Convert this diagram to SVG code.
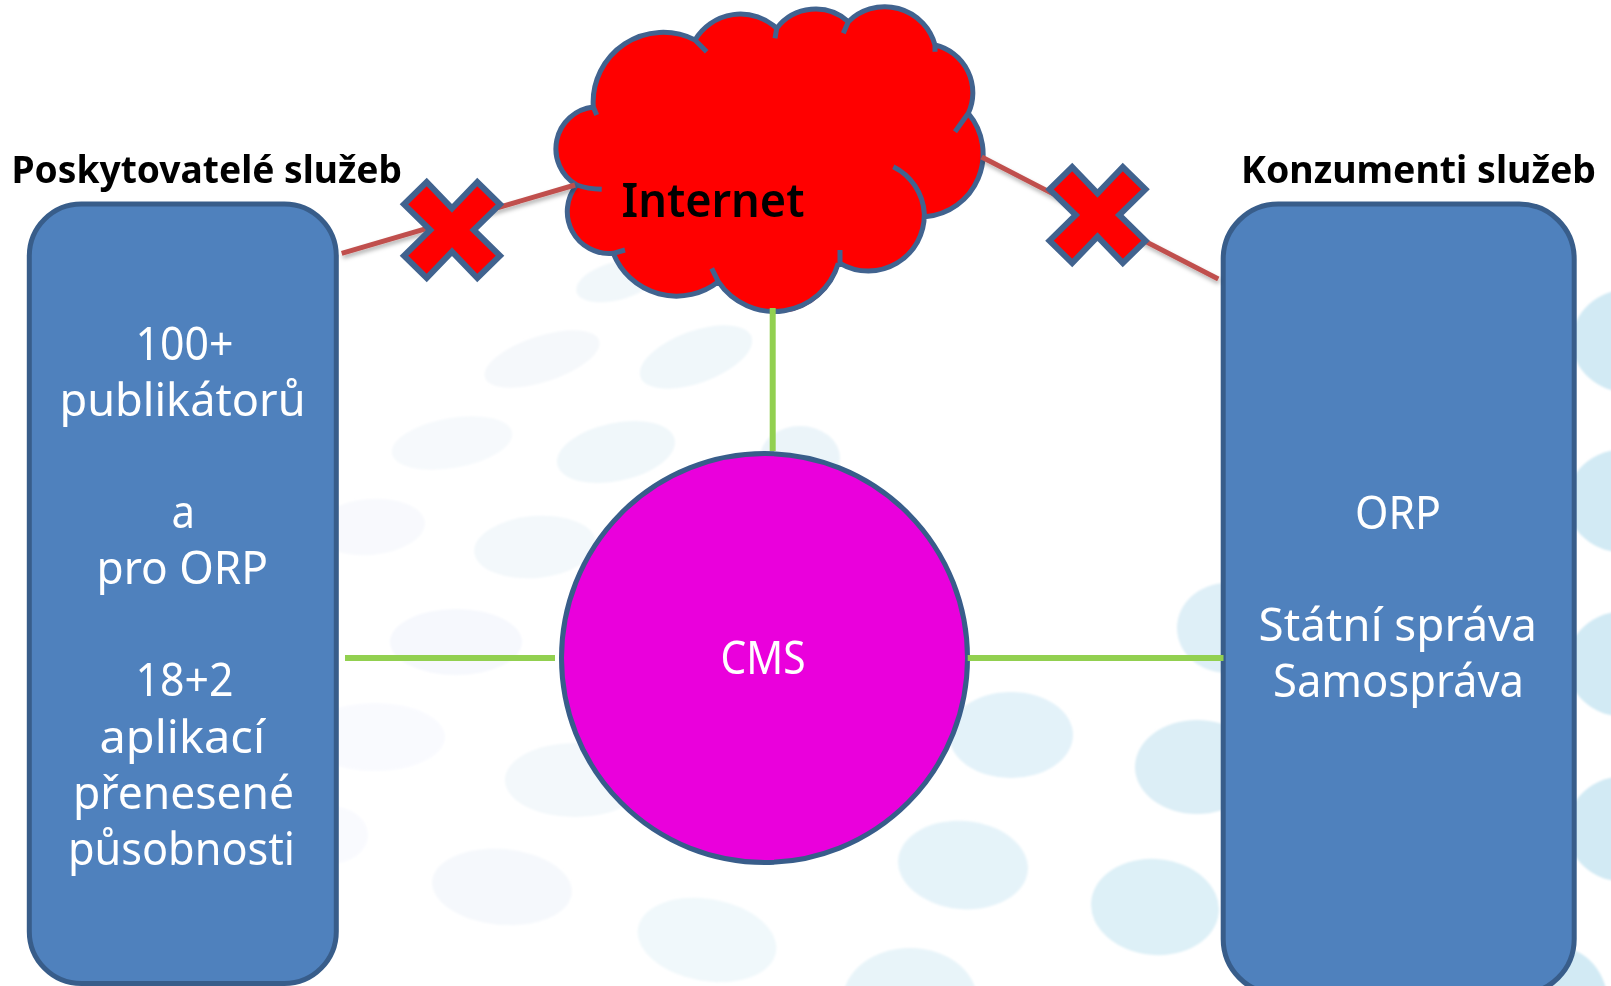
<svg xmlns="http://www.w3.org/2000/svg" width="1611" height="986" viewBox="0 0 1611 986">
<style>
.t{font-family:"Noto Sans","Open Sans","Liberation Sans",sans-serif;fill:#fff;font-size:46px}
.h{font-family:"Noto Sans","Open Sans","Liberation Sans",sans-serif;fill:#000;font-weight:700;font-size:37px}
.box{fill:#4f81bd;stroke:#385d8a;stroke-width:5}
.red{fill:#f00;stroke:#41638f;stroke-width:6}
.g{stroke:#92d050;stroke-width:6;fill:none}
.r{stroke:#c0504d;stroke-width:5;fill:none;filter:url(#sh)}
</style>
<defs>
<filter id="sh" x="-10%" y="-30%" width="120%" height="160%"><feDropShadow dx="1" dy="3" stdDeviation="2" flood-color="#000" flood-opacity="0.3"/></filter>
<filter id="soft" x="-5%" y="-5%" width="110%" height="110%"><feGaussianBlur stdDeviation="1"/></filter>
<path id="x" d="M0-21.7 25.3-48 48-25.7 21.7 0 48 25.7 25.3 48 0 21.7-25.3 48-48 25.7-21.7 0-48-25.7-25.3-48Z"/>
</defs>
<rect width="1611" height="986" fill="#fff"/>
<g id="background" filter="url(#soft)">
<ellipse cx="542" cy="359" rx="60" ry="23" transform="rotate(-18 542 359)" fill="#f5f8fb"/>
<ellipse cx="696" cy="357" rx="59" ry="26" transform="rotate(-20 696 357)" fill="#f0f7fa"/>
<ellipse cx="452" cy="443" rx="61" ry="25" transform="rotate(-10 452 443)" fill="#f6f9fc"/>
<ellipse cx="616" cy="452" rx="60" ry="29" transform="rotate(-12 616 452)" fill="#f0f7fa"/>
<ellipse cx="370" cy="527" rx="55" ry="28" transform="rotate(-5 370 527)" fill="#f8f9fd"/>
<ellipse cx="535" cy="547" rx="61" ry="31" transform="rotate(-5 535 547)" fill="#f3f8fb"/>
<ellipse cx="800" cy="458" rx="40" ry="32" fill="#ebf4f9"/>
<ellipse cx="617" cy="281" rx="42" ry="19" transform="rotate(-15 617 281)" fill="#f1f7fa"/>
<ellipse cx="456" cy="642" rx="66" ry="33" fill="#f6f8fd"/>
<ellipse cx="375" cy="737" rx="70" ry="34" fill="#f9fafe"/>
<ellipse cx="575" cy="780" rx="70" ry="37" fill="#f3f8fb"/>
<ellipse cx="502" cy="887" rx="70" ry="38" transform="rotate(5 502 887)" fill="#f5f8fc"/>
<ellipse cx="707" cy="940" rx="70" ry="41" transform="rotate(10 707 940)" fill="#f0f8fb"/>
<ellipse cx="330" cy="835" rx="38" ry="29" fill="#f9fafe"/>
<ellipse cx="1011" cy="735" rx="62" ry="43" fill="#e3f2f9"/>
<ellipse cx="963" cy="865" rx="65" ry="44" transform="rotate(5 963 865)" fill="#e5f3f9"/>
<ellipse cx="1155" cy="907" rx="64" ry="48" transform="rotate(5 1155 907)" fill="#ddf0f7"/>
<ellipse cx="1197" cy="767" rx="62" ry="47" fill="#dceef6"/>
<ellipse cx="1227" cy="628" rx="50" ry="45" fill="#deeff7"/>
<ellipse cx="910" cy="1000" rx="67" ry="52" fill="#e8f4f9"/>
<ellipse cx="1630" cy="341" rx="58" ry="52" fill="#d2eaf4"/>
<ellipse cx="1625" cy="501" rx="58" ry="52" fill="#d2eaf4"/>
<ellipse cx="1625" cy="664" rx="58" ry="53" fill="#d2eaf4"/>
<ellipse cx="1625" cy="829" rx="58" ry="53" fill="#d2eaf4"/>
<ellipse cx="1558" cy="1005" rx="50" ry="58" fill="#d2eaf4"/>
</g>
<g id="providers">
<rect class="box" x="29.3" y="204" width="307" height="779.5" rx="52"/>
<g class="t">
<text x="135.5" y="359.5" textLength="98" lengthAdjust="spacingAndGlyphs">100+</text>
<text x="59.5" y="416" textLength="246" lengthAdjust="spacingAndGlyphs">publikátorů</text>
<text x="171.5" y="528" textLength="23.5" lengthAdjust="spacingAndGlyphs">a</text>
<text x="96.5" y="583.5" textLength="171.5" lengthAdjust="spacingAndGlyphs">pro ORP</text>
<text x="135.5" y="696" textLength="98" lengthAdjust="spacingAndGlyphs">18+2</text>
<text x="99.5" y="752.5" textLength="165.5" lengthAdjust="spacingAndGlyphs">aplikací</text>
<text x="73" y="809" textLength="221" lengthAdjust="spacingAndGlyphs">přenesené</text>
<text x="68" y="865" textLength="227" lengthAdjust="spacingAndGlyphs">působnosti</text>
</g>
</g>
<text id="providers-title" class="h" x="11.5" y="182.7" textLength="390.5" lengthAdjust="spacingAndGlyphs">Poskytovatelé služeb</text>
<g id="consumers">
<rect class="box" x="1223.2" y="204" width="351" height="790" rx="55"/>
<g class="t">
<text x="1355" y="529" textLength="86" lengthAdjust="spacingAndGlyphs">ORP</text>
<text x="1258.5" y="640.5" textLength="278.5" lengthAdjust="spacingAndGlyphs">Státní správa</text>
<text x="1273" y="697" textLength="251" lengthAdjust="spacingAndGlyphs">Samospráva</text>
</g>
</g>
<text id="consumers-title" class="h" x="1241" y="183.3" textLength="355" lengthAdjust="spacingAndGlyphs">Konzumenti služeb</text>
<g id="internet">
<path fill="#f00" d="M593.3 107A70 70 0 0 1 695 40A53 53 0 0 1 776.7 28.3A49 49 0 0 1 848.3 21.7A52 52 0 0 1 935 45A49 49 0 0 1 968.3 113.3A63 63 0 0 1 925 216.7A56 56 0 0 1 840 263.3A67 67 0 0 1 718.3 281.7A68 68 0 0 1 613.3 253.3A42 42 0 0 1 576.7 185A42 42 0 0 1 593.3 107Z"/>
<path fill="none" stroke="#41638f" stroke-width="5" d="M596.7 115 593.3 107A70 70 0 0 1 695 40L706.7 51.7M695 40A53 53 0 0 1 776.7 28.3L775 38.3M776.7 28.3A49 49 0 0 1 848.3 21.7M843.3 33.3 848.3 21.7A52 52 0 0 1 935 45V51.7M935 45A49 49 0 0 1 968.3 113.3L955 131.7M968.3 113.3A63 63 0 0 1 925 216.7M893.3 166.7A56 56 0 0 1 924.3 213.3A56 56 0 0 1 840 263.3V250M838.3 263.3A67 67 0 0 1 718.3 281.7L711.7 268.3M718.3 281.7A68 68 0 0 1 613.3 253.3L625 250M613.3 253.3A42 42 0 0 1 576.7 185M593.3 107A42 42 0 0 0 576.7 185Q588 189 601.7 189.3"/>
<text x="621.5" y="216.5" font-family="'Noto Sans','Open Sans',sans-serif" font-size="47" font-weight="600" fill="#000" textLength="183" lengthAdjust="spacingAndGlyphs">Internet</text>
</g>
<g id="cms">
<ellipse cx="764.5" cy="658" rx="203" ry="204.5" fill="#ea00dc" stroke="#385d8a" stroke-width="5"/>
<text x="720.5" y="674" font-family="'Noto Sans','Open Sans',sans-serif" font-size="46" fill="#fff" textLength="85" lengthAdjust="spacingAndGlyphs">CMS</text>
</g>
<g id="connectors">
<path class="r" d="M341.7 253.3 575 185"/>
<path class="r" d="M981.7 157 1218.3 279"/>
<path class="g" d="M345 658H555"/>
<path class="g" d="M967.7 658H1223.5"/>
<path class="g" d="M772.7 308V451"/>
</g>
<g id="cross-left"><use href="#x" class="red" x="452" y="230"/></g>
<g id="cross-right"><use href="#x" class="red" x="1097.5" y="215"/></g>
</svg>
